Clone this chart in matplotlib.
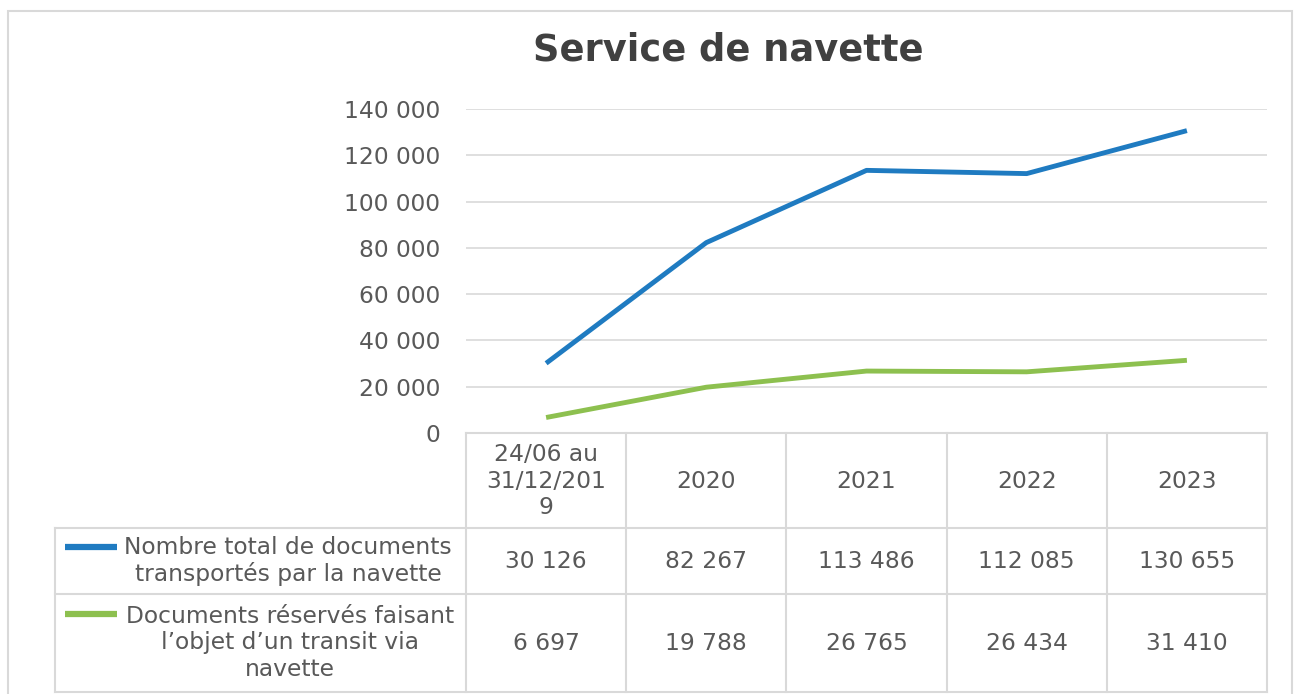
import matplotlib
matplotlib.use("Agg")
import matplotlib.pyplot as plt
from matplotlib.transforms import blended_transform_factory
from matplotlib.patches import Rectangle

categories = ["24/06 au\n31/12/201\n9", "2020", "2021", "2022", "2023"]
series_names = ["Nombre total de documents\ntransportés par la navette",
                "Documents réservés faisant\nl\u2019objet d\u2019un transit via\nnavette"]
total_docs = [30126, 82267, 113486, 112085, 130655]
reserved_docs = [6697, 19788, 26765, 26434, 31410]
yticks = [0, 20000, 40000, 60000, 80000, 100000, 120000, 140000]
title = "Service de navette"

colors = ["#1F7BC1", "#8DC04F"]
text_color = "#595959"
grid_color = "#D9D9D9"
FS = 16.8

W, H = 1302, 694
fig = plt.figure(figsize=(W / 100, H / 100), dpi=100)
plt.rcParams['font.family'] = ['DejaVu Sans']

def fx(px):
    return px / W

def fy(py):
    return 1 - py / H

ax_left, ax_right, ax_top, ax_bottom = 466, 1267, 109, 433
ax = fig.add_axes([fx(ax_left), fy(ax_bottom), fx(ax_right - ax_left), (ax_bottom - ax_top) / H])

x = list(range(len(categories)))
ax.plot(x, total_docs, color=colors[0], lw=3.5, solid_capstyle='butt', zorder=3)
ax.plot(x, reserved_docs, color=colors[1], lw=3.5, solid_capstyle='butt', zorder=3)
ax.set_xlim(-0.5, len(categories) - 0.5)
ax.set_ylim(0, 140000)
ax.set_yticks(yticks)
ax.set_yticklabels([f"{v:,}".replace(",", " ") for v in yticks], color=text_color, fontsize=FS)
ax.tick_params(axis='y', length=0, pad=18.5)
ax.set_xticks([])
for s in ax.spines.values():
    s.set_visible(False)
ax.grid(axis='y', color=grid_color, lw=1.2)
ax.set_axisbelow(True)

# Title
fig.text(fx(728), fy(50), title, ha='center', va='center', fontsize=26.5,
         fontweight='bold', color="#404040")

# Outer border
fig.patches.append(Rectangle((fx(8), fy(700)), fx(1284), (700 - 11) / H,
                             transform=fig.transFigure, fill=False,
                             edgecolor=grid_color, lw=1.5))

# Data table
tr = blended_transform_factory(ax.transData, fig.transFigure)
row_lines = [433, 528, 594, 692]
lw_t = 1.5
ax.plot([-0.5, len(categories) - 0.5], [fy(row_lines[0])] * 2, transform=tr,
        color=grid_color, lw=lw_t, clip_on=False)
for ry in row_lines[1:]:
    fig.add_artist(plt.Line2D([fx(55), fx(ax_right)], [fy(ry)] * 2,
                              transform=fig.transFigure, color=grid_color, lw=lw_t))
for i in range(len(categories) + 1):
    ax.plot([i - 0.5, i - 0.5], [fy(row_lines[0]), fy(row_lines[-1])], transform=tr,
            color=grid_color, lw=lw_t, clip_on=False)
fig.add_artist(plt.Line2D([fx(55), fx(55)], [fy(row_lines[1]), fy(row_lines[-1])],
                          transform=fig.transFigure, color=grid_color, lw=lw_t))

for i, c in enumerate(categories):
    ax.text(i, fy(481), c, transform=tr, ha='center', va='center', fontsize=FS,
            color=text_color, linespacing=1.18)

def fmt(v):
    return f"{v:,}".replace(",", " ")

row_centers = [561, 643]
for r, vals in enumerate([total_docs, reserved_docs]):
    for i, v in enumerate(vals):
        ax.text(i, fy(row_centers[r]), fmt(v), transform=tr, ha='center', va='center',
                fontsize=FS, color=text_color)

legend_y = [547, 614]
label_cx = [288, 290]
for r in range(2):
    fig.add_artist(plt.Line2D([fx(65), fx(117)], [fy(legend_y[r])] * 2,
                              transform=fig.transFigure, color=colors[r], lw=4.5,
                              solid_capstyle='butt'))
    fig.text(fx(label_cx[r]), fy(row_centers[r]), series_names[r], ha='center',
             va='center', fontsize=FS, color=text_color, linespacing=1.18)

fig.savefig("out.png", dpi=100)
